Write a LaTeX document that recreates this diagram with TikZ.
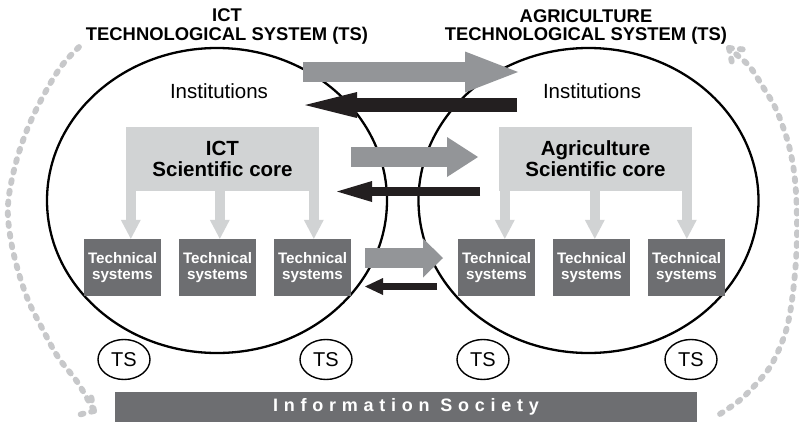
\documentclass[tikz,border=0pt]{standalone}
\usepackage{fontspec}
\setmainfont{Liberation Sans}
\usetikzlibrary{shapes.geometric,calc,arrows.meta}
\definecolor{boxdark}{HTML}{6D6E71}
\definecolor{corelight}{HTML}{D1D3D4}
\definecolor{arrgray}{HTML}{939598}
\definecolor{arrblack}{HTML}{231F20}
\definecolor{dotgray}{HTML}{C7C8CA}
\begin{document}
\begin{tikzpicture}[x=1pt,y=-1pt,
  tsellipse/.style={ellipse, draw=black, line width=2.3pt, minimum width=340pt, minimum height=305pt, inner sep=0pt},
  corebox/.style={fill=corelight, minimum width=193pt, minimum height=64pt, inner sep=0pt, align=center, font=\fontsize{20.5}{21}\selectfont\bfseries},
  techbox/.style={fill=boxdark, text=white, minimum width=77pt, minimum height=57pt, inner sep=0pt, align=center, font=\fontsize{15.2}{16}\selectfont\bfseries},
  tsnode/.style={ellipse, draw=black, line width=1.4pt, minimum width=52pt, minimum height=40pt, inner sep=0pt, font=\fontsize{20}{20}\selectfont},
  titletext/.style={font=\fontsize{18.4}{18}\selectfont\bfseries, anchor=base, inner sep=0pt},
  insttext/.style={font=\fontsize{20.5}{20}\selectfont, anchor=base, inner sep=0pt},
  downarr/.style={draw=corelight, line width=10pt, -{Triangle[length=19pt,width=20pt,line width=0pt]}},
  blockarr/.style n args={4}{draw=#1, line width=#2, -{Triangle[length=#4,width=#3,line width=0pt]}},
  dotline/.style={draw=dotgray, line width=5.8pt, line cap=round, dash pattern=on 3pt off 7.8pt},
  infobar/.style={fill=boxdark, text=white, minimum width=582pt, minimum height=30pt, inner sep=0pt, font=\fontsize{18}{18}\selectfont\bfseries\addfontfeature{LetterSpace=32}}
]
\fill[white] (0,0) rectangle (799,423);
\useasboundingbox (0,0) rectangle (799,423);

% dotted circulation arcs
\draw[dotline] plot[smooth, tension=0.6] coordinates {(79,47) (60,68) (40,102) (25,135) (14,170) (8,205) (10,235) (17,267) (28,300) (42,328) (58,357) (78,383) (94,411)};
\coordinate (ltip) at (94,411);
\draw[dotline] (ltip) -- ++(-4,-20);
\draw[dotline] (ltip) -- ++(-20,5);
\draw[dotline] plot[smooth, tension=0.6] coordinates {(720,414) (740,400) (757,383) (770,367) (780,347) (787,327) (792,300) (796,260) (797,220) (795,180) (790,150) (783,127) (775,107) (763,87) (750,67) (737,55) (729,48)};
\coordinate (rtip) at (729,48);
\draw[dotline] (rtip) -- ++(4,20);
\draw[dotline] (rtip) -- ++(20,2);

% the two technological systems
\node[tsellipse] (ictsys) at (217,200.5) {};
\node[tsellipse] (agrisys) at (588.5,200.5) {};

% scientific cores
\node[corebox] (ictcore) at (222.5,159) {ICT\\Scientific core};
\node[corebox] (agricore) at (595.5,159) {Agriculture\\Scientific core};

% technical systems
\node[techbox] (ict1) at (122.5,267.5) {Technical\\systems};
\node[techbox] (ict2) at (217.5,267.5) {Technical\\systems};
\node[techbox] (ict3) at (312.5,267.5) {Technical\\systems};
\node[techbox] (agri1) at (496.5,267.5) {Technical\\systems};
\node[techbox] (agri2) at (591.5,267.5) {Technical\\systems};
\node[techbox] (agri3) at (686.5,267.5) {Technical\\systems};

% core -> technical systems arrows
\coordinate (ia1) at ($(ictcore.south west)+(5,-1)$);
\coordinate (ia2) at ($(ictcore.south west)+(94,-1)$);
\coordinate (ia3) at ($(ictcore.south west)+(188,-1)$);
\coordinate (aa1) at ($(agricore.south west)+(6,-1)$);
\coordinate (aa2) at ($(agricore.south west)+(96,-1)$);
\coordinate (aa3) at ($(agricore.south west)+(188,-1)$);
\draw[downarr] (ia1) -- (ia1 |- ict1.north);
\draw[downarr] (ia2) -- (ia2 |- ict2.north);
\draw[downarr] (ia3) -- (ia3 |- ict3.north);
\draw[downarr] (aa1) -- (aa1 |- agri1.north);
\draw[downarr] (aa2) -- (aa2 |- agri2.north);
\draw[downarr] (aa3) -- (aa3 |- agri3.north);

% institutions
\node[insttext] (ictinst) at (219,98) {Institutions};
\node[insttext] (agriinst) at (592,98) {Institutions};

% exchange arrows between the systems
\coordinate (g1s) at (303,72);  \coordinate (g1t) at (518,72);
\coordinate (b1s) at (517,105); \coordinate (b1t) at (305,105);
\coordinate (g2s) at (351,157); \coordinate (g2t) at (478,157);
\coordinate (b2s) at (480,191.5); \coordinate (b2t) at (337,191.5);
\coordinate (g3s) at (365,258); \coordinate (g3t) at (443,258);
\coordinate (b3s) at (437,286.5); \coordinate (b3t) at (365,286.5);
\draw[blockarr={arrgray}{20pt}{41pt}{53pt}] (g1s) -- (g1t);
\draw[blockarr={arrblack}{14pt}{26pt}{52pt}] (b1s) -- (b1t);
\draw[blockarr={arrgray}{20pt}{40pt}{31pt}] (g2s) -- (g2t);
\draw[blockarr={arrblack}{9pt}{21pt}{35pt}] (b2s) -- (b2t);
\draw[blockarr={arrgray}{20pt}{39pt}{20pt}] (g3s) -- (g3t);
\draw[blockarr={arrblack}{7pt}{17pt}{18pt}] (b3s) -- (b3t);

% TS circles
\node[tsnode] (ts1) at (124,359.5) {TS};
\node[tsnode] (ts2) at (326,359.5) {TS};
\node[tsnode] (ts3) at (483,359.5) {TS};
\node[tsnode] (ts4) at (691,359.5) {TS};

% information society bar
\node[infobar] (infosoc) at (406,407) {Information Society};

% titles
\node[titletext] (icttitle1) at (227,21.5) {ICT};
\node[titletext] (icttitle2) at (227,40.5) {TECHNOLOGICAL SYSTEM (TS)};
\node[titletext] (agrititle1) at (586,22.5) {AGRICULTURE};
\node[titletext] (agrititle2) at (586,40.5) {TECHNOLOGICAL SYSTEM (TS)};
\end{tikzpicture}
\end{document}
